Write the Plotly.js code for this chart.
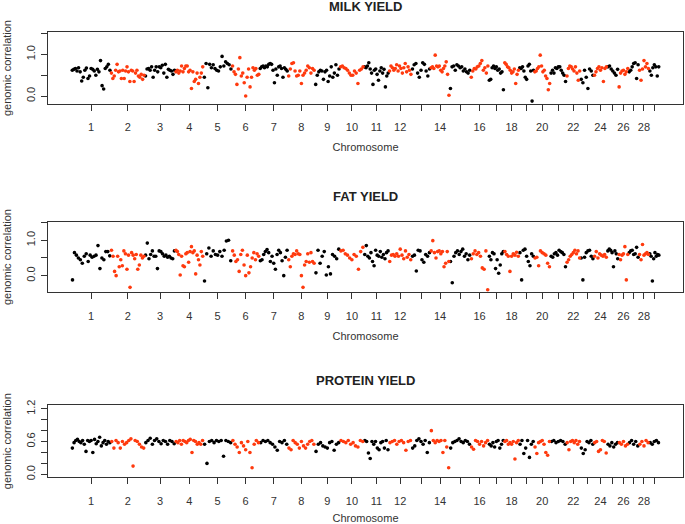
<!DOCTYPE html>
<html>
<head>
<meta charset="utf-8">
<script src="https://cdn.plot.ly/plotly-3.0.1.min.js"></script>
<style>html,body{margin:0;padding:0;background:#fff;}#chart{width:685px;height:524px;}</style>
</head>
<body>
<div id="chart"></div>
<script>
const chromosomes = [1,2,3,4,5,6,7,8,9,10,11,12,13,14,15,16,17,18,19,20,21,22,23,24,25,26,27,28,29];
const chrLength = [167,145,130,120,121,118,121,115,106,103,106,97,80,82,89,77,66,64,64,69,68,60,57,57,48,43,44,44,44];
const tickLabels = ["1","2","3","4","5","6","7","8","9","10","11","12","","14","","16","","18","","20","","22","","24","","26","","28",""];

// Genomic correlations per chromosome window — MILK YIELD
const milk = [
 [0.62,0.64,0.66,0.60,0.68,0.58,0.36,0.45,0.62,0.67,0.42,0.48,0.66,0.64,0.60,0.50,0.64,0.58,0.85,0.25,0.17,0.66,0.70,0.76,0.62],
 [0.55,0.42,0.48,0.62,0.76,0.58,0.60,0.42,0.62,0.42,0.60,0.70,0.58,0.35,0.62,0.60,0.35,0.55,0.62,0.48,0.45,0.52,0.40,0.50],
 [0.48,0.65,0.66,0.62,0.70,0.45,0.62,0.70,0.58,0.70,0.68,0.74,0.55,0.76,0.45,0.64,0.62,0.60,0.52,0.62],
 [0.58,0.62,0.55,0.60,0.72,0.58,0.66,0.72,0.72,0.58,0.62,0.18,0.58,0.35,0.40,0.55,0.30,0.45,0.55,0.70],
 [0.45,0.78,0.20,0.76,0.68,0.75,0.66,0.62,0.60,0.70,0.95,0.72,0.82,0.78,0.75,0.65],
 [0.72,0.58,0.52,0.28,0.65,0.92,0.48,0.55,0.32,0.00,0.45,0.65,0.22,0.45,0.68,0.62,0.66,0.50,0.52],
 [0.66,0.70,0.72,0.68,0.72,0.70,0.76,0.78,0.76,0.62,0.32,0.65,0.50,0.70,0.72,0.66,0.45,0.68,0.64,0.60],
 [0.48,0.65,0.78,0.80,0.60,0.48,0.50,0.60,0.30,0.50,0.55,0.62,0.72,0.68,0.55,0.66,0.62],
 [0.28,0.50,0.58,0.62,0.60,0.40,0.58,0.62,0.35,0.48,0.70,0.45,0.55,0.75,0.50,0.65],
 [0.70,0.72,0.68,0.66,0.62,0.55,0.50,0.50,0.60,0.55,0.30,0.62,0.65,0.70],
 [0.70,0.68,0.72,0.80,0.65,0.55,0.28,0.62,0.65,0.52,0.38,0.60,0.68,0.55,0.64,0.22,0.48,0.55],
 [0.60,0.72,0.68,0.62,0.66,0.75,0.60,0.72,0.66,0.55,0.68,0.78,0.58,0.70,0.62,0.52],
 [0.65,0.75,0.78,0.55,0.45,0.62,0.80,0.76,0.60,0.48,0.65],
 [0.68,0.70,0.66,0.98,0.72,0.70,0.72,0.62,0.58,0.66,0.72,0.82,0.52,0.02],
 [0.18,0.70,0.72,0.62,0.75,0.72,0.68,0.70,0.60,0.65,0.58,0.55,0.62],
 [0.45,0.60,0.66,0.65,0.70,0.72,0.78,0.85,0.62,0.68,0.55,0.72],
 [0.38,0.40,0.68,0.72,0.66,0.70,0.62,0.65,0.55,0.58,0.15],
 [0.80,0.76,0.70,0.68,0.62,0.55,0.58,0.65,0.30,0.52,0.62],
 [0.68,0.66,0.70,0.60,0.45,0.40,0.72,0.76,0.60,-0.12,0.62],
 [0.58,0.60,0.66,0.70,0.98,0.72,0.58,0.62,0.48,0.42,0.15,0.30],
 [0.55,0.62,0.55,0.68,0.66,0.70,0.70,0.62,0.55,0.50,0.35],
 [0.48,0.66,0.72,0.70,0.65,0.60,0.70,0.55,0.38,0.60],
 [0.40,0.32,0.62,0.45,0.18,0.65,0.60,0.50],
 [0.50,0.58,0.66,0.70,0.62,0.68,0.35,0.66,0.70],
 [0.70,0.72,0.65,0.60,0.55,0.50,0.64],
 [0.22,0.55,0.60,0.62,0.52,0.58,0.66],
 [0.58,0.62,0.70,0.78,0.80,0.42,0.75],
 [0.62,0.38,0.65,0.85,0.70,0.78,0.66],
 [0.60,0.50,0.68,0.75,0.70,0.48,0.70]
];

// FAT YIELD
const fat = [
 [-0.12,0.65,0.58,0.50,0.45,0.35,0.55,0.62,0.40,0.58,0.52,0.55,0.58,0.85,0.20,0.50,0.45,0.68,0.68,0.56],
 [0.72,0.55,0.12,0.00,0.55,0.25,0.45,0.28,0.70,0.62,0.18,0.58,-0.33,0.65,0.58,0.48,0.60,0.18,0.30,0.58,0.50,0.55],
 [0.58,0.92,0.48,0.60,0.70,0.55,0.55,0.20,0.70,0.68,0.62,0.55,0.58,0.52,0.55,0.50,0.48,0.70],
 [0.72,0.68,0.60,0.02,0.55,0.28,0.25,0.62,0.65,0.38,0.68,0.82,0.65,0.70,0.05,0.58,0.45,0.30,0.68,0.55],
 [-0.15,0.62,0.78,0.55,0.70,0.60,0.58,0.68,0.55,0.72,0.98,1.00,0.42],
 [0.70,0.58,0.40,0.45,0.12,0.60,0.72,0.30,0.00,0.58,0.08,0.25,0.50,0.65,0.45,0.62,0.55],
 [0.42,0.45,0.60,0.68,0.74,0.65,0.40,0.55,0.35,0.18,0.60,0.72,0.65,0.42,0.00,0.52,0.72],
 [0.45,0.25,0.55,0.62,0.60,0.70,0.62,0.60,0.00,-0.33,0.30,0.40,0.62,0.38,0.65,0.40,0.35],
 [0.08,0.72,0.35,0.55,0.68,0.02,0.25,0.05,0.60,0.55,0.48,0.75],
 [0.70,0.72,0.62,0.58,0.50,0.45,0.60,0.55,0.18,0.68,0.80],
 [0.60,0.85,0.55,0.50,0.65,0.40,0.28,0.72,0.58,0.55,0.68,0.52,0.60,0.48,0.65,0.70],
 [0.40,0.58,0.60,0.55,0.62,0.55,0.75,0.58,0.48,0.70,0.52,0.60,0.45],
 [0.55,0.58,0.13,0.72,0.70,0.45,0.38,0.60,0.55,0.65],
 [0.70,0.99,0.65,0.50,0.68,0.70,0.62,0.68,0.25,0.35,0.68,0.40],
 [0.40,-0.20,0.55,0.65,0.70,0.60,0.68,0.75,0.55,0.62,0.45,0.58],
 [0.48,0.62,0.70,0.60,0.65,0.55,0.22,0.18,0.70,-0.40],
 [0.55,0.45,0.65,0.62,0.20,0.45,0.07,0.30,0.62,0.68],
 [0.68,0.60,0.55,0.12,0.55,0.62,0.58,0.66,0.55],
 [0.65,-0.12,0.72,0.75,0.55,0.40,0.28,0.62,0.55],
 [0.50,0.52,0.28,0.70,0.65,0.62,0.58,0.35,0.25],
 [0.55,0.52,0.62,0.65,0.58,0.72,0.68,0.65,0.60,0.25],
 [0.38,0.45,0.55,0.60,0.65,0.72,0.62,0.70,0.50],
 [0.50,-0.12,0.52,0.65,0.70,0.72,0.55,0.48],
 [0.55,0.68,0.50,0.62,0.58,0.55,0.60,0.52],
 [0.70,0.75,0.72,0.65,0.25,0.70,0.62,0.48],
 [0.60,0.45,0.58,0.62,0.82,-0.12,0.60],
 [0.65,0.70,0.72,0.60,0.62,0.80,0.52],
 [0.60,0.45,0.88,0.58,0.62,0.65,0.60],
 [0.62,0.55,-0.15,0.48,0.65,0.55,0.60,0.58]
];

// PROTEIN YIELD
const protein = [
 [0.48,0.58,0.62,0.64,0.60,0.58,0.62,0.55,0.42,0.62,0.60,0.62,0.40,0.64,0.56,0.60,0.68,0.52,0.58,0.62,0.55,0.60,0.58],
 [0.60,0.48,0.62,0.58,0.48,0.60,0.55,0.58,0.62,0.65,0.15,0.62,0.60,0.55,0.50,0.48],
 [0.58,0.62,0.66,0.55,0.62,0.65,0.60,0.56,0.62,0.60,0.55,0.62,0.60,0.56],
 [0.60,0.58,0.62,0.55,0.62,0.60,0.58,0.62,0.64,0.40,0.62,0.60,0.55,0.58,0.55,0.62],
 [0.55,0.20,0.60,0.62,0.58,0.62,0.60,0.62,0.33,0.62,0.60,0.58],
 [0.62,0.55,0.50,0.40,0.58,0.52,0.45,0.60,0.40,0.12,0.55,0.62,0.58],
 [0.58,0.62,0.60,0.62,0.58,0.55,0.50,0.44,0.60,0.58,0.62,0.55],
 [0.48,0.45,0.62,0.58,0.55,0.48,0.60,0.52,0.48,0.55,0.60,0.62,0.55],
 [0.42,0.55,0.58,0.52,0.50,0.48,0.58,0.60,0.44,0.55,0.58],
 [0.62,0.60,0.58,0.62,0.55,0.58,0.52,0.50,0.62,0.60],
 [0.62,0.60,0.39,0.29,0.60,0.55,0.60,0.48,0.45,0.58,0.60,0.48,0.62,0.45],
 [0.58,0.60,0.62,0.55,0.60,0.62,0.58,0.44,0.60,0.62],
 [0.48,0.52,0.62,0.65,0.60,0.55,0.62,0.40,0.58],
 [0.80,0.62,0.58,0.62,0.60,0.62,0.40,0.62,0.50,0.12],
 [0.48,0.58,0.60,0.62,0.65,0.60,0.58,0.62,0.60,0.55],
 [0.50,0.46,0.62,0.60,0.55,0.60,0.52,0.58,0.62],
 [0.55,0.52,0.58,0.50,0.60,0.62,0.48,0.55,0.62],
 [0.60,0.62,0.55,0.58,0.55,0.60,0.28,0.58,0.62],
 [0.55,0.62,0.38,0.48,0.62,0.31,0.55,0.60],
 [0.50,0.38,0.58,0.60,0.62,0.55,0.40,0.35,0.60],
 [0.60,0.62,0.58,0.60,0.62,0.60,0.55],
 [0.58,0.45,0.60,0.62,0.58,0.62,0.55,0.60],
 [0.48,0.38,0.45,0.60,0.58,0.62,0.55],
 [0.58,0.60,0.42,0.45,0.62,0.60,0.39],
 [0.55,0.52,0.58,0.50,0.55,0.58],
 [0.58,0.55,0.60,0.52,0.55],
 [0.58,0.62,0.55,0.60,0.52],
 [0.55,0.60,0.52,0.62,0.58],
 [0.58,0.55,0.60,0.62,0.58]
];

const panelTitles = ["MILK YIELD","FAT YIELD","PROTEIN YIELD"];
const colorOdd = "#000000", colorEven = "#FF3A0E";

// cumulative starts
const chrStart = [];
let acc = 0;
chrLength.forEach(l => { chrStart.push(acc); acc += l; });
const totalLen = acc;
const tickVals = chrStart.map((s,i) => s + chrLength[i]/2);

function buildTraces(data, axisIdx) {
  const xs = [[],[]], ys = [[],[]];
  data.forEach((vals, ci) => {
    const g = ci % 2;
    const n = vals.length;
    vals.forEach((v, j) => {
      xs[g].push(chrStart[ci] + (j + 0.5) * chrLength[ci] / n);
      ys[g].push(v);
    });
  });
  const suf = axisIdx === 1 ? "" : String(axisIdx);
  return [0,1].map(g => ({
    type: "scatter", mode: "markers",
    x: xs[g], y: ys[g],
    xaxis: "x" + suf, yaxis: "y" + suf,
    marker: {size: 3.6, color: g === 0 ? colorOdd : colorEven},
    hoverinfo: "x+y", showlegend: false
  }));
}

const traces = [].concat(buildTraces(milk,1), buildTraces(fat,2), buildTraces(protein,3));

const xpad = 0.04 * totalLen;
const H = 524;
const boxes = [[32,104],[221.7,292.3],[405,477.3]];
const yRanges = [[-0.19,1.535],[-0.47,1.525],[-0.055,1.27]];
const yTicks = [
  {vals:[0,0.5,1.0,1.5], text:["0.0","","1.0",""]},
  {vals:[0,0.5,1.0,1.5], text:["0.0","","1.0",""]},
  {vals:[0,0.2,0.4,0.6,0.8,1.0,1.2], text:["0.0","","","0.6","","","1.2"]}
];
const font = {family: "Liberation Sans, Arial, sans-serif", size: 11, color: "#333"};

const layout = {
  width: 685, height: 524,
  margin: {l: 48, r: 2, t: 0, b: 0},
  paper_bgcolor: "#fff", plot_bgcolor: "#fff",
  font: font, showlegend: false,
  annotations: []
};

boxes.forEach((b, i) => {
  const suf = i === 0 ? "" : String(i+1);
  const dom = [1 - b[1]/H, 1 - b[0]/H];
  layout["xaxis" + suf] = {
    domain: [0,1], anchor: "y" + suf,
    range: [-xpad, totalLen + xpad],
    tickmode: "array", tickvals: tickVals, ticktext: tickLabels,
    ticks: "outside", ticklen: 6, tickcolor: "#333",
    ticklabelstandoff: 7,
    showline: true, linecolor: "#333", linewidth: 1, mirror: true,
    showgrid: false, zeroline: false,
    tickfont: {size: 11, color: "#333"},
    title: {text: "Chromosome", font: {size: 11, color: "#333"}, standoff: 11}
  };
  layout["yaxis" + suf] = {
    domain: dom, anchor: "x" + suf,
    range: yRanges[i],
    tickmode: "array", tickvals: yTicks[i].vals, ticktext: yTicks[i].text,
    tickangle: -90,
    ticks: "outside", ticklen: 6, tickcolor: "#333",
    ticklabelstandoff: 2,
    showline: true, linecolor: "#333", linewidth: 1, mirror: true,
    showgrid: false, zeroline: false,
    tickfont: {size: 11, color: "#333"},
    title: {text: "genomic correlation", font: {size: 11, color: "#333"}, standoff: 10}
  };
  layout.annotations.push({
    text: "<b>" + panelTitles[i] + "</b>",
    xref: "paper", yref: "paper",
    x: 0.5, y: dom[1] + 25/ (H),
    xanchor: "center", yanchor: "middle",
    showarrow: false,
    font: {size: 13, color: "#222", family: "Liberation Sans, Arial, sans-serif"}
  });
});

Plotly.newPlot("chart", traces, layout, {displayModeBar: false, staticPlot: true});
</script>
</body>
</html>
